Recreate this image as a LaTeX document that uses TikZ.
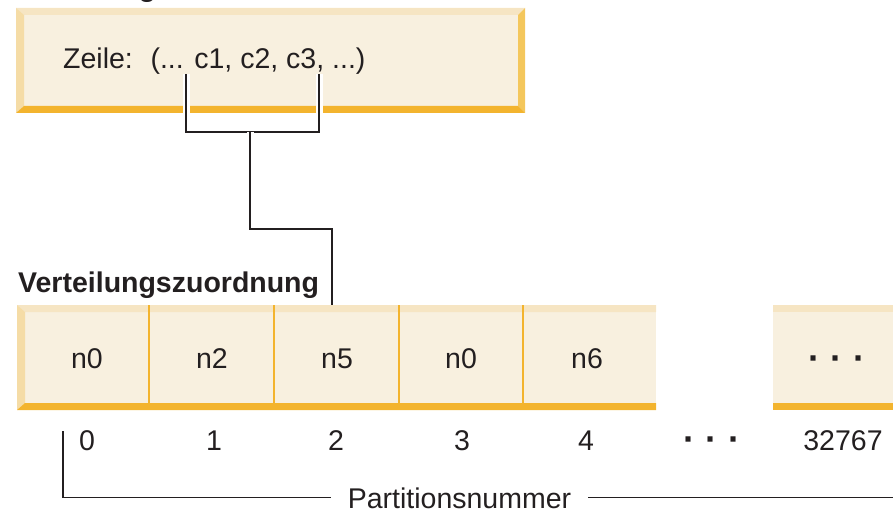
\documentclass[tikz,border=0pt]{standalone}
\usepackage{fontspec}
\setmainfont{Liberation Sans}

\definecolor{cream}{HTML}{F8F0DF}
\definecolor{bevtop}{HTML}{F6E5C3}
\definecolor{bevleft}{HTML}{F5DCA6}
\definecolor{bevright}{HTML}{F4C75C}
\definecolor{bevbot}{HTML}{F3B42E}
\definecolor{ink}{HTML}{231F20}

\tikzset{
  lbl/.style={font=\fontsize{28.5}{34}\selectfont, text=ink, inner sep=0pt},
  heading/.style={font=\fontsize{28.5}{34}\selectfont\bfseries, text=ink, inner sep=0pt},
  ellipsis/.style={font=\fontsize{36}{36}\selectfont\bfseries, text=ink, inner sep=0pt},
  conn/.style={draw=ink, line width=1.6pt, preaction={draw=white, line width=7pt}},
  rulestroke/.style={draw=ink, line width=1.6pt},
  divider/.style={draw=bevbot, line width=1.4pt},
}
\newcommand\dotrun{·\hspace{10.5pt}·\hspace{10.5pt}·}

\begin{document}
\begin{tikzpicture}[x=1pt, y=-1pt]
\useasboundingbox (0,0) rectangle (893,510);

% heading of the row box (only its lower edge lies on the page)
\begin{scope}
  \clip (0,0) rectangle (893,510);
  \node[heading, anchor=base west] (keytitle) at (18,-3) {Verteilungsschlüssel};
\end{scope}

% ---------- bevelled row box ----------
\fill[cream] (16,8) rectangle (525,113);
\fill[bevtop]   (16,8) -- (525,8) -- (518,15) -- (24,15) -- cycle;
\fill[bevleft]  (16,8) -- (24,15) -- (24,106) -- (16,113) -- cycle;
\fill[bevright] (525,8) -- (525,113) -- (518,106) -- (518,15) -- cycle;
\fill[bevbot]   (16,113) -- (24,106) -- (518,106) -- (525,113) -- cycle;
\node[lbl, anchor=base west] (row) at (63,69) {Zeile:\hspace{0.62em}(... c1, c2, c3, ...)};

% ---------- distribution map, first group ----------
\fill[cream] (17,305) rectangle (656,410);
\fill[bevtop]  (17,305) -- (656,305) -- (656,312) -- (25,312) -- cycle;
\fill[bevleft] (17,305) -- (25,312) -- (25,403) -- (17,410) -- cycle;
\fill[bevbot]  (17,410) -- (25,403) -- (656,403) -- (656,410) -- cycle;
\foreach \x in {149,274,399,523}
  \draw[divider] (\x,305) -- (\x,410);

% ---------- distribution map, last group ----------
\fill[cream] (773,305) rectangle (893,410);
\fill[bevtop] (773,305) rectangle (893,312);
\fill[bevbot] (773,403) rectangle (893,410);

\node[heading, anchor=base west] (maptitle) at (18,292) {Verteilungszuordnung};

% cell contents
\node[lbl, anchor=base] (cell0) at (87,368)  {n0};
\node[lbl, anchor=base] (cell1) at (212,368) {n2};
\node[lbl, anchor=base] (cell2) at (337,368) {n5};
\node[lbl, anchor=base] (cell3) at (461,368) {n0};
\node[lbl, anchor=base] (cell4) at (587,368) {n6};
\node[ellipsis] (cellN) at (837,363) {\dotrun};

% partition numbers
\node[lbl, anchor=base] (num0) at (87,450)  {0};
\node[lbl, anchor=base] (num1) at (214,450) {1};
\node[lbl, anchor=base] (num2) at (336,450) {2};
\node[lbl, anchor=base] (num3) at (462,450) {3};
\node[lbl, anchor=base] (num4) at (586,450) {4};
\node[ellipsis] (numgap) at (712,444) {\dotrun};
\node[lbl, anchor=base] (numN) at (843,450) {32767};

% ---------- connector from the key columns to the map ----------
\coordinate (tapA) at (186,74);
\coordinate (tapB) at (319,74);
\coordinate (fork) at (250,132);
\coordinate (bend) at (332,229);
\coordinate (maptop) at (332,305);
\draw[conn] (tapA) |- (fork) -| (tapB);
\draw[conn] (fork) |- (bend) -- (maptop);

% ---------- partition number bracket ----------
\node[lbl, text height=21pt, text depth=0pt, inner xsep=17pt] (plabel) at (459.5,497.5) {Partitionsnummer};
\coordinate (tick0) at (63,431);
\coordinate (rend) at (893,497.5);
\draw[rulestroke] (tick0) |- (plabel.west);
\draw[rulestroke] (plabel.east) -- (rend);
\end{tikzpicture}
\end{document}
